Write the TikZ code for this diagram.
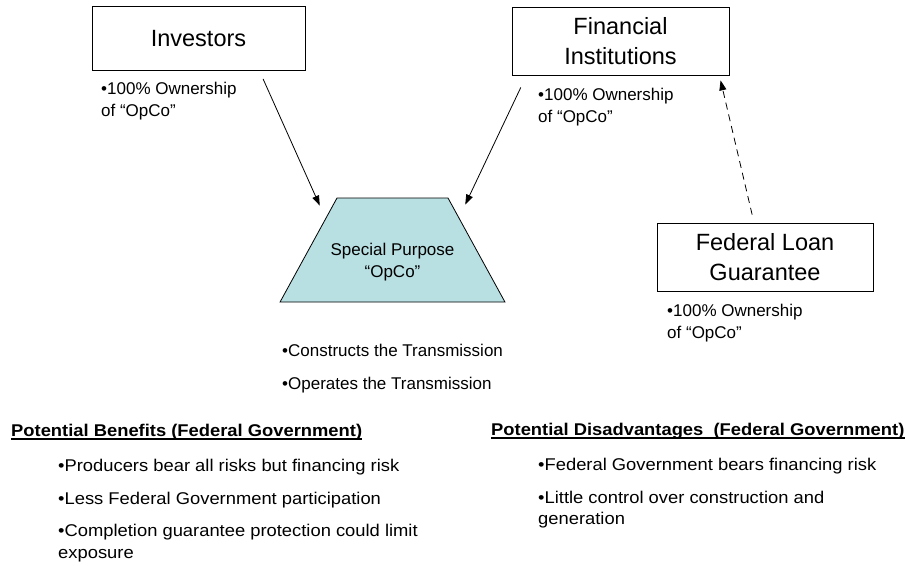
\documentclass[tikz,border=0pt]{standalone}
\usepackage{fontspec}
\setmainfont{Liberation Sans}
\newfontfamily\widefont[FakeStretch=1.08]{Liberation Sans}
\usepackage{xcolor}
\usetikzlibrary{positioning,shapes.geometric,arrows.meta,calc}
\definecolor{opcofill}{HTML}{B8DFE2}

\begin{document}
\begin{tikzpicture}[
  x=1pt, y=-1pt,
  party/.style={draw, line width=0.8pt, rectangle, align=center, inner sep=0pt,
    font=\fontsize{23.5}{30}\selectfont},
  opcoshape/.style={draw, line width=0.8pt, fill=opcofill, trapezium, trapezium angle=61.3,
    inner xsep=55.5pt, inner ysep=52pt},
  note/.style={align=left, anchor=north west, inner sep=0pt, font=\fontsize{17}{22}\selectfont},
  point/.style={anchor=base west, inner sep=0pt, font=\fontsize{17}{22}\selectfont},
  listhead/.style={anchor=base west, inner sep=0pt, font=\widefont\bfseries\fontsize{17}{21.5}\selectfont},
  listitem/.style={align=left, anchor=north west, inner sep=0pt, font=\widefont\fontsize{17}{21.5}\selectfont},
  owns/.style={-{Triangle[length=10pt,width=7pt]}, line width=0.8pt},
  backs/.style={owns, dash pattern=on 7pt off 5pt}
]
  \useasboundingbox (0,0) rectangle (909,565);

  % Parties
  \node[party, minimum width=213pt, minimum height=64pt] (inv) at (198.5,38.5) {Investors};
  \node[party, minimum width=217pt, minimum height=68pt] (fin) at (620.5,41) {Financial\\Institutions};
  \node[party, minimum width=216pt, minimum height=68pt] (fed) at (765,257) {Federal Loan\\Guarantee};

  % Special purpose company
  \node[opcoshape] (opco) at (392.5,250) {};
  \node[align=center, inner sep=0pt, font=\fontsize{17}{22}\selectfont] (opcotxt)
    at ([yshift=-11.6pt]opco.center) {Special Purpose\\“OpCo”};

  % Ownership notes
  \node[note] (invlbl) at (101,82.4) {•100\% Ownership\\of “OpCo”};
  \node[note] (finlbl) at (538,88.4) {•100\% Ownership\\of “OpCo”};
  \node[note] (fedlbl) at (667,304.4) {•100\% Ownership\\of “OpCo”};

  % Connectors
  \draw[owns, shorten <=8.8pt] ([xshift=61pt]inv.south)
    -- ([xshift=-17pt,yshift=-8pt]opco.top left corner);
  \draw[owns, shorten <=13.3pt] ([xshift=-94pt]fin.south)
    -- ([xshift=17pt,yshift=-7pt]opco.top right corner);
  \draw[backs, shorten <=8.2pt, shorten >=5.1pt] ([xshift=-11pt]fed.north)
    -- ([xshift=-10pt]fin.south east);

  % Tasks
  \node[point] (task1) at (282,356) {•Constructs the Transmission};
  \node[point] (task2) at (282,389) {•Operates the Transmission};

  % Benefits
  \node[listhead] (hdL) at (11,436) {Potential Benefits (Federal Government)};
  \draw[line width=1.4pt] ([yshift=-3pt]hdL.base west) -- ([yshift=-3pt]hdL.base east);
  \node[listitem, anchor=base west] (ben1) at (58,471) {•Producers bear all risks but financing risk};
  \node[listitem, anchor=base west] (ben2) at (58,504) {•Less Federal Government participation};
  \node[listitem] (ben3) at (58,524.4) {•Completion guarantee protection could limit\\exposure};

  % Disadvantages
  \node[listhead] (hdR) at (491,435) {Potential Disadvantages\ \ (Federal Government)};
  \draw[line width=1.4pt] ([yshift=-3pt]hdR.base west) -- ([yshift=-3pt]hdR.base east);
  \node[listitem, anchor=base west] (dis1) at (538,470) {•Federal Government bears financing risk};
  \node[listitem] (dis2) at (538,490.6) {•Little control over construction and\\generation};
\end{tikzpicture}
\end{document}
